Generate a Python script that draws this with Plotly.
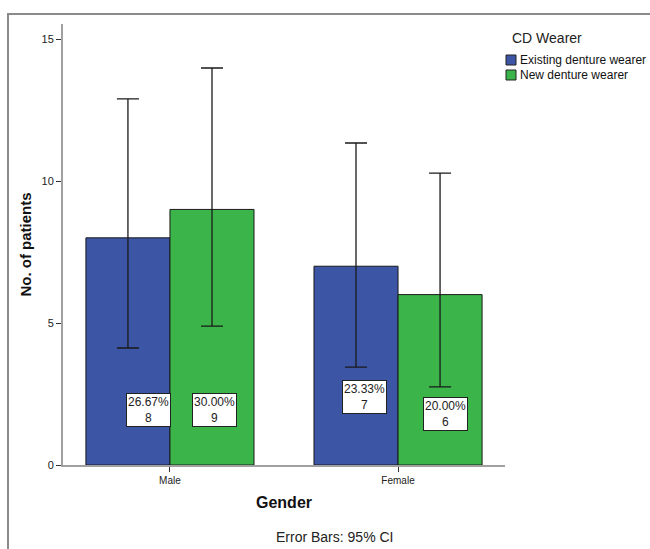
import plotly.graph_objects as go

categories = ["Male", "Female"]
series_names = ["Existing denture wearer", "New denture wearer"]
counts = {"Existing denture wearer": [8, 7], "New denture wearer": [9, 6]}
ci_upper = {"Existing denture wearer": [12.89, 11.34], "New denture wearer": [13.98, 10.28]}
ci_lower = {"Existing denture wearer": [4.12, 3.45], "New denture wearer": [4.89, 2.75]}
pct_labels = {"Existing denture wearer": ["26.67%", "23.33%"], "New denture wearer": ["30.00%", "20.00%"]}
colors = {"Existing denture wearer": "#3c55a5", "New denture wearer": "#3bb54a"}

# label anchor offsets (category units) and heights (data units), as in the SPSS output
label_x = {"Existing denture wearer": [-0.092, -0.145], "New denture wearer": [0.197, 0.21]}
label_y = {"Existing denture wearer": [1.94, 2.39], "New denture wearer": [1.94, 1.80]}

FONT = "Liberation Sans, Arial"
W, H = 650, 549
ml, mr, mt, mb = 63, 145, 24, 84
pw, ph = W - ml - mr, H - mt - mb


def px(xf):
    return (xf - ml) / pw


def py(yf):
    return (H - mb - yf) / ph


fig = go.Figure()
for s in series_names:
    v = counts[s]
    up = [u - x for u, x in zip(ci_upper[s], v)]
    dn = [x - l for l, x in zip(ci_lower[s], v)]
    fig.add_trace(go.Bar(
        x=categories, y=v, name=s, showlegend=False,
        marker=dict(color=colors[s], line=dict(color="#1a1a1a", width=1)),
        error_y=dict(type="data", symmetric=False, array=up, arrayminus=dn,
                     color="#1a1a1a", thickness=1.3, width=11),
    ))

annotations = []
for s in series_names:
    for i, c in enumerate(categories):
        annotations.append(dict(
            x=i + label_x[s][i], y=label_y[s][i], xref="x", yref="y",
            text=f"{pct_labels[s][i]}<br>{counts[s][i]}", showarrow=False,
            font=dict(family=FONT, size=12, color="#222"),
            bgcolor="white", bordercolor="#222", borderwidth=1, borderpad=1,
            align="center",
        ))

annotations.append(dict(
    x=px(334), y=py(537), xref="paper", yref="paper", text="Error Bars: 95% CI",
    xanchor="center", yanchor="middle",
    showarrow=False, font=dict(family=FONT, size=14, color="#222"),
))

# legend (manual, SPSS style)
annotations.append(dict(
    x=px(547), y=py(38), xref="paper", yref="paper", text="CD Wearer",
    xanchor="center", yanchor="middle",
    showarrow=False, font=dict(family=FONT, size=14, color="#222"),
))
shapes = []
leg_y = [60, 75]
for s, yc in zip(series_names, leg_y):
    shapes.append(dict(type="rect", xref="paper", yref="paper",
                       x0=px(506), x1=px(516), y0=py(yc + 5), y1=py(yc - 5),
                       fillcolor=colors[s], line=dict(color="#222", width=1)))
    annotations.append(dict(
        x=px(518), y=py(yc), xref="paper", yref="paper", text=s,
        xanchor="left", yanchor="middle", showarrow=False,
        font=dict(family=FONT, size=12, color="#111"),
    ))

shapes.append(dict(type="rect", xref="paper", yref="paper",
                   x0=px(8), x1=px(700), y0=py(700), y1=py(14),
                   line=dict(color="#8a8a8a", width=2), layer="below"))

fig.update_layout(
    width=W, height=H,
    margin=dict(l=ml, r=mr, t=mt, b=mb, pad=0),
    paper_bgcolor="white", plot_bgcolor="white",
    barmode="group", bargap=0.263, bargroupgap=0,
    font=dict(family=FONT, color="#222"),
    showlegend=False,
    xaxis=dict(
        type="category", range=[-0.469, 1.469], showgrid=False,
        showline=True, linecolor="#a0a0a0", linewidth=2,
        ticks="outside", ticklen=5, tickcolor="#333", tickwidth=1,
        tickfont=dict(size=10, color="#222"),
        title=dict(text="<b>Gender</b>", font=dict(size=16, color="#111"), standoff=12),
    ),
    yaxis=dict(
        range=[0, 15.53], tickvals=[0, 5, 10, 15], showgrid=False, zeroline=False,
        showline=True, linecolor="#a0a0a0", linewidth=2,
        ticks="outside", ticklen=5, tickcolor="#333", tickwidth=1,
        tickfont=dict(size=11, color="#222"),
        title=dict(text="<b>No. of patients</b>", font=dict(size=15, color="#111"), standoff=6),
    ),
    annotations=annotations,
    shapes=shapes,
)

fig.write_html(
    "out.html",
    config={"displayModeBar": False},
    post_script="document.body.style.margin='0';document.body.style.overflow='hidden';",
)
